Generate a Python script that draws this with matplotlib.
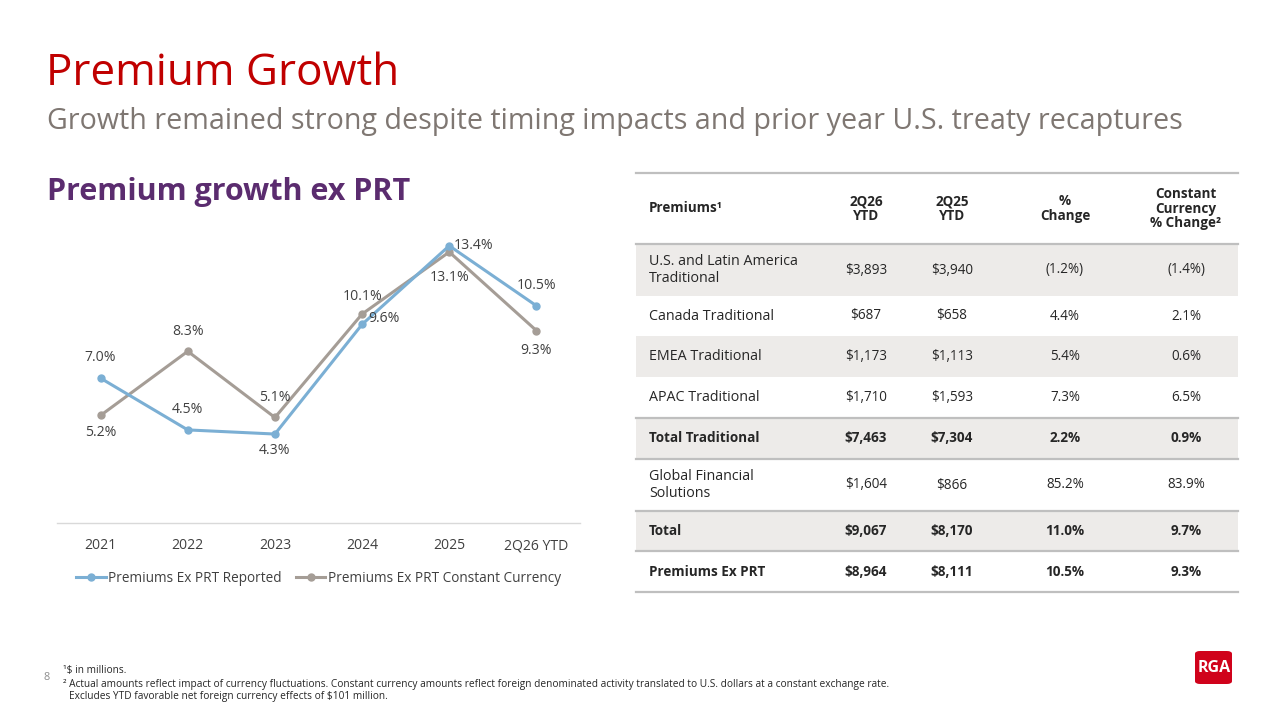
import matplotlib
matplotlib.use("Agg")
import matplotlib.pyplot as plt
from matplotlib.patches import Rectangle, FancyBboxPatch
import numpy as np

plt.rcParams['font.family'] = ['Open Sans', 'DejaVu Sans']

# ---- data ----
categories = ["2021", "2022", "2023", "2024", "2025", "2Q26 YTD"]
reported = [7.0, 4.5, 4.3, 9.6, 13.4, 10.5]
constant = [5.2, 8.3, 5.1, 10.1, 13.1, 9.3]
series_names = ["Premiums Ex PRT Reported", "Premiums Ex PRT Constant Currency"]

table_header = ["Premiums\u00b9", "2Q26\nYTD", "2Q25\nYTD", "%\nChange", "Constant\nCurrency\n% Change\u00b2"]
row_labels = ["U.S. and Latin America\nTraditional", "Canada Traditional", "EMEA Traditional",
              "APAC Traditional", "Total Traditional", "Global Financial\nSolutions", "Total",
              "Premiums Ex PRT"]
col_2q26 = ["$3,893", "$687", "$1,173", "$1,710", "$7,463", "$1,604", "$9,067", "$8,964"]
col_2q25 = ["$3,940", "$658", "$1,113", "$1,593", "$7,304", "$866", "$8,170", "$8,111"]
col_pct = ["(1.2%)", "4.4%", "5.4%", "7.3%", "2.2%", "85.2%", "11.0%", "10.5%"]
col_cc = ["(1.4%)", "2.1%", "0.6%", "6.5%", "0.9%", "83.9%", "9.7%", "9.3%"]
bold_rows = [False, False, False, False, True, False, True, True]
shaded_rows = [True, False, True, False, True, False, True, False]

W, H = 1280, 720
fig = plt.figure(figsize=(12.8, 7.2), dpi=100)
fig.patch.set_facecolor("white")

def fx(px):
    return px / W

def fy(py):
    return 1 - py / H

def pt(px):
    return px * 0.72

# ---- titles ----
fig.text(fx(46), fy(85), "Premium Growth", color="#C00000", fontsize=pt(44), va="baseline", ha="left")
fig.text(fx(47), fy(129), "Growth remained strong despite timing impacts and prior year U.S. treaty recaptures",
         color="#7F7772", fontsize=pt(28.6), va="baseline", ha="left")
fig.text(fx(47), fy(200), "Premium growth ex PRT", color="#5B2C6F", fontsize=pt(30.5), fontweight="bold",
         va="baseline", ha="left")

# ---- chart ----
ax = fig.add_axes([fx(57), fy(523), fx(580) - fx(57), fy(192) - fy(523)])
x = np.arange(len(categories))
blue = "#7BAFD4"
grey = "#A59D96"
ax.plot(x, reported, color=blue, lw=2.2, marker="o", ms=5, label=series_names[0], zorder=3)
ax.plot(x, constant, color=grey, lw=2.2, marker="o", ms=5, label=series_names[1], zorder=2)
ax.set_xlim(-0.5, len(categories) - 0.5)
ax.set_ylim(0, 16)
ax.set_yticks([])
ax.set_xticks(x)
ax.set_xticklabels(categories, fontsize=pt(14), color="#404040")
ax.tick_params(axis="x", length=0, pad=11)
for s in ["top", "right", "left"]:
    ax.spines[s].set_visible(False)
ax.spines["bottom"].set_color("#D9D9D9")
ax.spines["bottom"].set_linewidth(1)
ax.patch.set_alpha(0)

# label offsets in pixels (dx, dy) ; positive dy is up
rep_off = [(0, 21), (0, 20), (0, -16), (22, 6), (24, 0), (0, 20)]
con_off = [(0, -17), (0, 20), (0, 20), (0, 18), (0, -26), (0, -20)]
lab_fs = pt(14)
for i, v in enumerate(reported):
    dx, dy = rep_off[i]
    ax.annotate(f"{v:.1f}%", (x[i], v), xytext=(dx * 0.72, dy * 0.72), textcoords="offset points",
                ha="center", va="center", fontsize=lab_fs, color="#404040")
for i, v in enumerate(constant):
    dx, dy = con_off[i]
    ax.annotate(f"{v:.1f}%", (x[i], v), xytext=(dx * 0.72, dy * 0.72), textcoords="offset points",
                ha="center", va="center", fontsize=lab_fs, color="#404040")

leg = ax.legend(loc="center", bbox_to_anchor=(0.5, (fy(578) - fy(523)) / (fy(192) - fy(523))),
                ncol=2, frameon=False, fontsize=pt(13.6), handlelength=2.2, handletextpad=0.2,
                columnspacing=1.0, labelcolor="#404040")

# ---- table ----
tx0, tx1 = 636, 1238
header_top, header_bot = 173, 244
row_bounds = [244, 296, 336, 377, 418, 459, 511, 551, 592]
col_centers = [None, 866, 952, 1065, 1186]
text_left = 649
line_c = "#BFBFBF"
shade_c = "#EDEBE9"
txt_c = "#262626"
fs_t = pt(13.5)
fs_lab = pt(14.3)

for i in range(len(row_labels)):
    if shaded_rows[i]:
        fig.patches.append(Rectangle((fx(tx0), fy(row_bounds[i + 1])), fx(tx1) - fx(tx0),
                                     fy(row_bounds[i]) - fy(row_bounds[i + 1]),
                                     transform=fig.transFigure, facecolor=shade_c, edgecolor="none", zorder=0))

for yl in [header_top, header_bot, 418, 459, 511, 551, 592]:
    fig.add_artist(plt.Line2D([fx(tx0), fx(tx1)], [fy(yl), fy(yl)], transform=fig.transFigure,
                              color=line_c, lw=1.6, zorder=1))

hy = (header_top + header_bot) / 2
fig.text(fx(text_left), fy(hy), table_header[0], fontsize=fs_t, fontweight="bold", color=txt_c,
         ha="left", va="center")
for j in range(1, 5):
    fig.text(fx(col_centers[j]), fy(hy), table_header[j], fontsize=fs_t, fontweight="bold", color=txt_c,
             ha="center", va="center", linespacing=1.05, multialignment="center")

for i in range(len(row_labels)):
    cy = (row_bounds[i] + row_bounds[i + 1]) / 2
    fw = "bold" if bold_rows[i] else "normal"
    fig.text(fx(text_left), fy(cy), row_labels[i], fontsize=fs_t if bold_rows[i] else fs_lab,
             fontweight=fw, color=txt_c, ha="left", va="center", linespacing=1.1)
    for j, col in zip(range(1, 5), [col_2q26, col_2q25, col_pct, col_cc]):
        fig.text(fx(col_centers[j]), fy(cy), col[i], fontsize=fs_t, fontweight=fw, color=txt_c,
                 ha="center", va="center")

# ---- footnotes ----
fn_fs = pt(10.1)
fig.text(fx(44), fy(677), "8", fontsize=pt(11), color="#8C8C8C", ha="left", va="center")
fig.text(fx(63), fy(671), "\u00b9$ in millions.", fontsize=fn_fs, color="#262626", ha="left", va="center")
fig.text(fx(63), fy(685), "\u00b2 Actual amounts reflect impact of currency fluctuations. Constant currency amounts reflect "
         "foreign denominated activity translated to U.S. dollars at a constant exchange rate.",
         fontsize=fn_fs, color="#262626", ha="left", va="center")
fig.text(fx(69), fy(697), "Excludes YTD favorable net foreign currency effects of $101 million.",
         fontsize=fn_fs, color="#262626", ha="left", va="center")

# ---- logo ----
fig.patches.append(FancyBboxPatch((fx(1195), fy(684)), fx(1232) - fx(1195), fy(651) - fy(684),
                                  boxstyle="round,pad=0,rounding_size=0.004", transform=fig.transFigure,
                                  facecolor="#D0021B", edgecolor="none"))
fig.text(fx(1214), fy(668), "RGA", fontsize=pt(16), fontweight="bold", color="white", ha="center", va="center")

fig.savefig("out.png", dpi=100, facecolor="white")
